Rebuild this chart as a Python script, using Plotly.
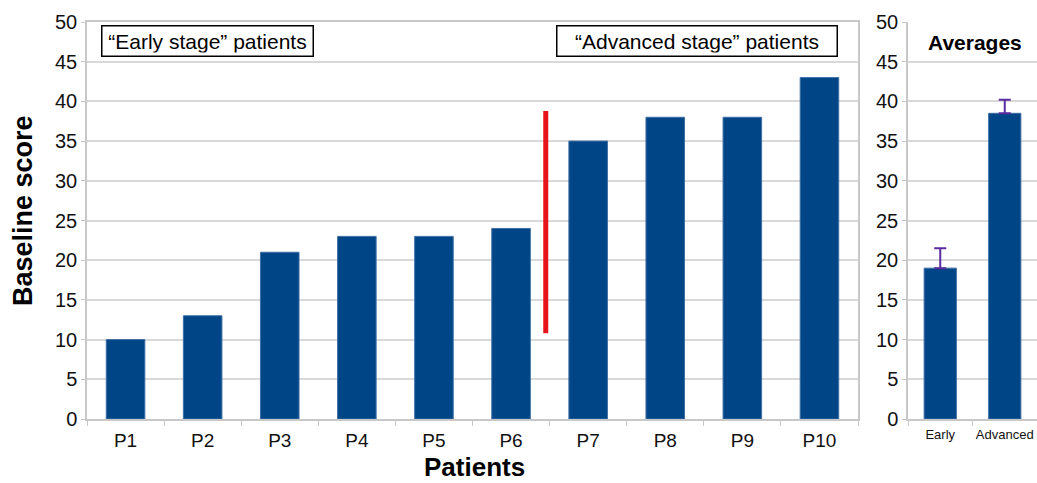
import plotly.graph_objects as go

patients = ["P1", "P2", "P3", "P4", "P5", "P6", "P7", "P8", "P9", "P10"]
scores = [10, 13, 21, 23, 23, 24, 35, 38, 38, 43]

groups = ["Early", "Advanced"]
averages = [19, 38.5]
avg_err_plus = [2.5, 1.7]

divider_pos = 5.45
divider_range = [10.8, 38.8]

y_ticks = [0, 5, 10, 15, 20, 25, 30, 35, 40, 45, 50]

BLUE = "#004586"
FONT = "Liberation Sans, Arial, sans-serif"
GRID = "#d9d9d9"
AXIS = "#c8c8c8"

fig = go.Figure()
fig.add_trace(go.Bar(x=patients, y=scores, marker=dict(color=BLUE, line=dict(color="#3d6fa6", width=1)),
                     xaxis="x", yaxis="y", showlegend=False))
fig.add_trace(go.Bar(x=groups, y=averages, marker=dict(color=BLUE, line=dict(color="#3d6fa6", width=1)),
                     error_y=dict(type="data", array=avg_err_plus, arrayminus=[0, 0], symmetric=False,
                                  color="#5a2ca0", thickness=2, width=6),
                     xaxis="x2", yaxis="y2", showlegend=False))

fig.add_shape(type="line", xref="x", yref="y", x0=divider_pos, x1=divider_pos,
              y0=divider_range[0], y1=divider_range[1], line=dict(color="#e8141c", width=5))

W, H = 1037, 483
L, R, T, B = 87, 0, 22, 64
pw = W - L - R
ph = H - T - B
main_right = (858 - L) / pw
right_left = (908 - L) / pw

axis_common = dict(showgrid=False, showline=True, linecolor=AXIS, linewidth=1.5,
                   ticks="outside", ticklen=5, tickcolor=AXIS, tickangle=0, automargin=False,
                   ticklabelstandoff=3,
                   tickfont=dict(family=FONT, size=19, color="#111"))
y_common = dict(range=[0, 50], tickvals=y_ticks, showgrid=True, gridcolor=GRID, gridwidth=1.5,
                showline=True, linecolor=AXIS, linewidth=1.5, ticks="outside", ticklen=4,
                tickcolor=AXIS, automargin=False, tickfont=dict(family=FONT, size=20, color="#111"),
                zeroline=False)


def ann(text, x, y, size, **kw):
    return dict(text=text, xref="paper", yref="paper", x=(x - L) / pw, y=(419 - y) / ph,
                xanchor="center", yanchor="middle", showarrow=False,
                font=dict(family=FONT, size=size, color="black"), **kw)


fig.update_layout(
    width=W, height=H,
    margin=dict(l=L, r=R, t=T, b=B),
    paper_bgcolor="white", plot_bgcolor="white",
    bargap=0.5,
    xaxis=dict(domain=[0, main_right], anchor="y", tickson="boundaries", mirror=True, **axis_common),
    yaxis=dict(domain=[0, 1], anchor="x", mirror=True, **y_common),
    xaxis2=dict(domain=[right_left, 1], anchor="y2", tickson="boundaries",
                **{**axis_common, "tickfont": dict(family=FONT, size=13, color="#111")}),
    yaxis2=dict(domain=[0, 1], anchor="x2", **y_common),
    annotations=[
        ann("<b>Baseline score</b>", 23, 211, 27, textangle=-90),
        ann("<b>Patients</b>", 474, 467, 26),
        ann("“Early stage” patients", 207, 41, 21, bordercolor="black", borderwidth=1.5, borderpad=3,
            bgcolor="white", width=204),
        ann("“Advanced stage” patients", 697, 40.5, 21, bordercolor="black", borderwidth=1.5, borderpad=3,
            bgcolor="white", width=273),
        ann("<b>Averages</b>", 975, 42, 21),
    ],
)

fig.write_html("out.html", config={"displayModeBar": False},
               post_script="document.body.style.margin='0';document.body.style.overflow='hidden';")
